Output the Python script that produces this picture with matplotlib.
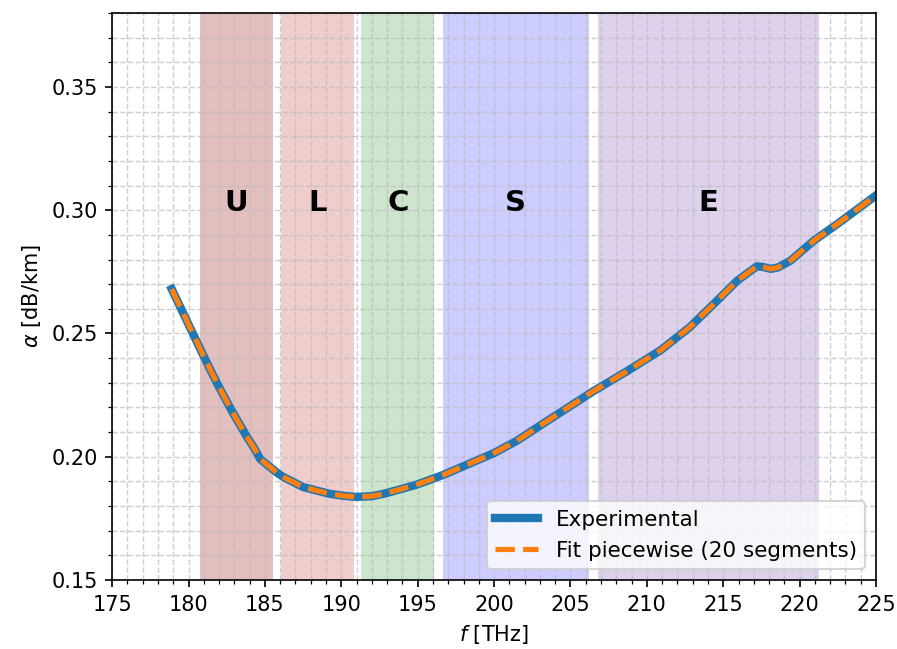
import matplotlib
matplotlib.use("Agg")
import matplotlib.pyplot as plt
from matplotlib.ticker import MultipleLocator

freq = [178.9, 179.9, 180.9, 181.85, 182.8, 183.8, 184.3, 184.7, 185.1, 185.8,
        186.2, 187.5, 189.2, 190.2, 191.0, 192.0, 192.8, 194.9, 196.7, 198.2,
        200.0, 201.5, 203.2, 204.3, 206.5, 208.7, 210.9, 212.8, 214.35, 215.9,
        216.7, 217.2, 217.6, 218.1, 218.6, 219.4, 220.9, 222.6, 225.0]
alpha = [0.268, 0.255, 0.242, 0.230, 0.219, 0.2083, 0.2035, 0.1990, 0.1970, 0.1935,
         0.1918, 0.1877, 0.1850, 0.1841, 0.1837, 0.1840, 0.1850, 0.1886, 0.1927, 0.1967,
         0.2015, 0.2065, 0.2134, 0.2178, 0.2266, 0.2347, 0.2432, 0.2525, 0.2618, 0.2713,
         0.2750, 0.2772, 0.2770, 0.2762, 0.2768, 0.2795, 0.2875, 0.2950, 0.3060]

# transmission bands
band_names = ['U', 'L', 'C', 'S', 'E']
band_start = [180.75, 186.05, 191.3, 196.65, 206.8]
band_end = [185.5, 190.8, 196.1, 206.2, 221.3]
band_colors = ['brown', 'indianred', 'green', 'blue', 'tab:purple']
band_alpha = [0.3, 0.3, 0.2, 0.2, 0.3]
label_y = 0.303

fig, ax = plt.subplots(figsize=(897 / 150, 649 / 150), dpi=150)
fig.subplots_adjust(left=0.125, right=0.9766, top=0.98, bottom=0.1063)

for name, a, b, c, al in zip(band_names, band_start, band_end, band_colors, band_alpha):
    ax.axvspan(a, b, color=c, alpha=al, lw=0)
    ax.text((a + b) / 2, label_y, name, ha='center', va='center',
            fontsize=14, fontweight='bold')

ax.plot(freq, alpha, color='tab:blue', lw=4, label='Experimental')
ax.plot(freq, alpha, color='tab:orange', lw=2.5, ls='--',
        label='Fit piecewise (20 segments)')

ax.set_xlim(175, 225)
ax.set_ylim(0.15, 0.38)
ax.xaxis.set_major_locator(MultipleLocator(5))
ax.xaxis.set_minor_locator(MultipleLocator(1))
ax.yaxis.set_major_locator(MultipleLocator(0.05))
ax.yaxis.set_minor_locator(MultipleLocator(0.01))
ax.grid(which='both', color='#bbbbbb', linestyle='--', linewidth=0.7, alpha=0.7)

ax.set_xlabel(r'$f$ [THz]')
ax.set_ylabel(r'$\alpha$ [dB/km]')
ax.legend(loc='lower right', prop={'size': 10.3})

fig.savefig('out.png', dpi=150)
